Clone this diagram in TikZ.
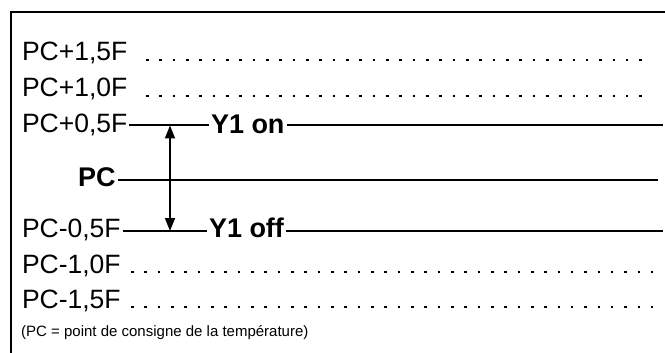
\documentclass[tikz,border=0pt]{standalone}
\usepackage{fontspec}
\setmainfont{Liberation Sans}
\usetikzlibrary{arrows.meta}
\begin{document}
\begin{tikzpicture}[x=1pt,y=-1pt,
  lab/.style={anchor=base west, inner sep=0pt, outer sep=2pt, font=\fontsize{26.5}{30}\selectfont},
  boldlab/.style={anchor=base west, inner sep=0pt, outer sep=2pt, font=\fontsize{27}{30}\selectfont\bfseries},
  note/.style={anchor=base west, inner sep=0pt, font=\fontsize{15}{18}\selectfont},
  level/.style={line width=2pt},
  leader/.style={line width=2.6pt, dash pattern=on 2.6pt off 10.73pt},
  frame/.style={line width=2pt},
  span/.style={line width=1.8pt, {Triangle[length=13pt,width=10pt]}-{Triangle[length=13pt,width=10pt]}}
]
\useasboundingbox (0,0) rectangle (665,353);

% open frame: left and top edges
\coordinate (fbl) at (10.5,353);
\coordinate (ftl) at (10.5,12);
\coordinate (ftr) at (665,12);
\draw[frame] (fbl) -- (ftl) -- (ftr);

% threshold labels
\node[lab] (p15) at (20,61) {PC+1,5F};
\node[lab] (p10) at (20,97) {PC+1,0F};
\node[lab] (p05) at (20,132) {PC+0,5F};
\node[boldlab] (pc) at (76,186) {PC};
\node[lab] (m05) at (20,237) {PC-0,5F};
\node[lab] (m10) at (20,273) {PC-1,0F};
\node[lab] (m15) at (20,308) {PC-1,5F};

% switching labels
\node[boldlab] (yon) at (209,133) {Y1 on};
\node[boldlab] (yoff) at (207,237) {Y1 off};

% dotted leaders
\coordinate (l15a) at (146,60);  \coordinate (l15b) at (642.2,60);
\coordinate (l10a) at (146,96);  \coordinate (l10b) at (642.2,96);
\coordinate (l-10a) at (131,272); \coordinate (l-10b) at (653,272);
\coordinate (l-15a) at (131,307); \coordinate (l-15b) at (653,307);
\draw[leader] (l15a) -- (l15b);
\draw[leader] (l10a) -- (l10b);
\draw[leader] (l-10a) -- (l-10b);
\draw[leader] (l-15a) -- (l-15b);

% switching levels and set point
\coordinate (onR) at (663,125.5);
\coordinate (pcR) at (658,180);
\coordinate (offR) at (663,231);
\draw[level] (p05.east |- onR) -- (yon.west |- onR);
\draw[level] (yon.east |- onR) -- (onR);
\draw[level] (pc.east |- pcR) -- (pcR);
\draw[level] (m05.east |- offR) -- (yoff.west |- offR);
\draw[level] (yoff.east |- offR) -- (offR);

% hysteresis band
\coordinate (aT) at (170,125.5);
\coordinate (aB) at (170,231);
\draw[span] (aT) -- (aB);

% note
\node[note] (fn) at (21,336) {(PC = point de consigne de la température)};
\end{tikzpicture}
\end{document}
